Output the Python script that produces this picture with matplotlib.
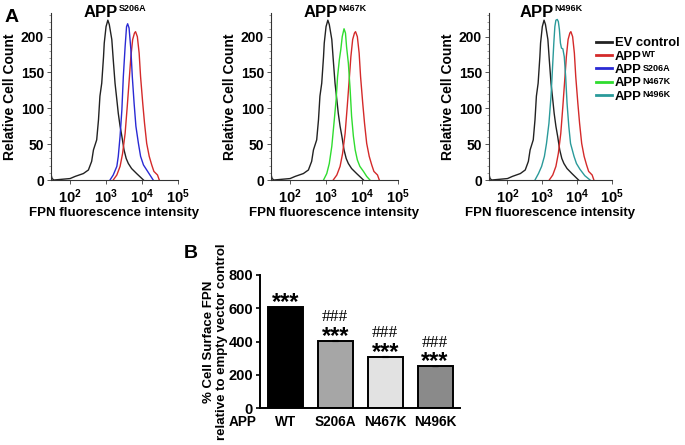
import numpy as np
import matplotlib
matplotlib.use("Agg")
import matplotlib.pyplot as plt

plt.rcParams['font.family'] = ['Liberation Sans', 'DejaVu Sans']
plt.rcParams['font.weight'] = 'bold'
plt.rcParams['mathtext.fontset'] = 'custom'
plt.rcParams['mathtext.rm'] = 'Liberation Sans:bold'
plt.rcParams['mathtext.bf'] = 'Liberation Sans:bold'
plt.rcParams['mathtext.it'] = 'Liberation Sans:bold'

# ---------------- Panel A data (x = log10 fluorescence, y = relative cell count)
ev_x = [1.47, 1.50, 1.55, 2.00, 2.14, 2.37, 2.51, 2.60, 2.65, 2.74, 2.79, 2.83, 2.88, 2.93, 2.95,
        3.00, 3.05, 3.09, 3.16, 3.20, 3.25, 3.30, 3.34, 3.39, 3.44, 3.50, 3.56, 3.62, 3.71,
        3.85, 4.04]
ev_y = [8, 2, 0, 2, 5, 9, 14, 26, 42, 56, 84, 117, 135, 172, 191,
        214, 223, 217, 196, 168, 135, 112, 93, 75, 61, 42, 30, 23, 16,
        9, 0]

wt_x = [3.20, 3.30, 3.39, 3.46, 3.53, 3.59, 3.65, 3.69, 3.74, 3.79, 3.82, 3.87, 3.92, 3.96,
        4.02, 4.07, 4.13, 4.20, 4.27, 4.33, 4.39, 4.43, 4.48]
wt_y = [0, 7, 19, 37, 65, 103, 144, 172, 196, 205, 207, 200, 177, 144,
        107, 79, 51, 33, 21, 12, 9, 7, 0]

s206a_x = [3.11, 3.20, 3.30, 3.34, 3.39, 3.44, 3.48, 3.53, 3.57, 3.60, 3.64, 3.69, 3.73, 3.78,
           3.83, 3.90, 3.96, 4.04, 4.13, 4.22, 4.31]
s206a_y = [0, 7, 19, 33, 61, 98, 144, 186, 214, 218, 212, 182, 144, 107,
           75, 51, 33, 21, 14, 7, 0]

n467k_x = [2.93, 3.02, 3.09, 3.16, 3.22, 3.28, 3.32, 3.37, 3.41, 3.45, 3.50, 3.54, 3.57, 3.62,
           3.67, 3.71, 3.76, 3.81, 3.87, 3.94, 4.04, 4.13, 4.22]
n467k_y = [0, 9, 23, 47, 79, 112, 144, 168, 182, 200, 211, 205, 186, 163,
           126, 89, 61, 42, 28, 19, 12, 5, 0]

n496k_x = [2.79, 2.89, 2.98, 3.06, 3.12, 3.19, 3.25, 3.29, 3.33, 3.36, 3.39, 3.43, 3.46, 3.49,
           3.52, 3.55, 3.59, 3.63, 3.67, 3.71, 3.76, 3.81, 3.86, 3.91, 3.98, 4.08, 4.22, 4.37]
n496k_y = [0, 9, 19, 33, 51, 79, 117, 154, 191, 214, 223, 224, 221, 210,
           191, 184, 183, 172, 144, 107, 75, 51, 42, 33, 23, 15, 6, 0]

title_base = 'APP'
title_sups = ['S206A', 'N467K', 'N496K']
x_ticks_exp = [2, 3, 4, 5]
y_ticks_a = [0, 50, 100, 150, 200]

legend_bases = ['EV control', 'APP', 'APP', 'APP', 'APP']
legend_sups = ['', 'WT', 'S206A', 'N467K', 'N496K']

# ---------------- Panel B data
b_categories = ['WT', 'S206A', 'N467K', 'N496K']
b_values = [605, 405, 308, 252]
b_err = [3, 3, 3, 2]
b_colors = ['#000000', '#a6a6a6', '#e2e2e2', '#8a8a8a']
b_yticks = [0, 200, 400, 600, 800]

W, H = 685, 445
fig = plt.figure(figsize=(W / 100, H / 100), dpi=100)
renderer = fig.canvas.get_renderer()


def rect(l, t, r, b):
    return [l / W, 1 - b / H, (r - l) / W, (b - t) / H]


col_ev = '#222222'
col_wt = '#d42a2a'
col_s = '#2a2ad4'
col_n467 = '#2fdc2f'
col_n496 = '#2a9a9a'

axes_rects = [rect(51, 13, 178, 180), rect(271, 13, 398, 180), rect(489, 13, 612, 180)]
mut = [(s206a_x, s206a_y, col_s), (n467k_x, n467k_y, col_n467), (n496k_x, n496k_y, col_n496)]
handles = {}
for i, r in enumerate(axes_rects):
    ax = fig.add_axes(r)
    h_ev, = ax.plot(10 ** np.array(ev_x), ev_y, color=col_ev, lw=1.0)
    h_wt, = ax.plot(10 ** np.array(wt_x), wt_y, color=col_wt, lw=1.0)
    mx, my, mc = mut[i]
    h_m, = ax.plot(10 ** np.array(mx), my, color=mc, lw=1.0)
    handles['ev'] = h_ev
    handles['wt'] = h_wt
    handles[i] = h_m
    ax.set_xscale('log')
    ax.set_xlim(10 ** 1.47, 10 ** 5.0)
    ax.set_ylim(0, 233)
    ax.set_xticks([10.0 ** e for e in x_ticks_exp])
    ax.set_xticklabels([r'$\mathbf{10^{%d}}$' % e for e in x_ticks_exp], fontsize=10.5)
    ax.set_yticks(y_ticks_a)
    ax.set_yticklabels([str(v) for v in y_ticks_a], fontsize=10, fontweight='bold')
    ax.yaxis.set_minor_locator(matplotlib.ticker.MultipleLocator(10))
    for s in ['top', 'right']:
        ax.spines[s].set_visible(False)
    for s in ['left', 'bottom']:
        ax.spines[s].set_linewidth(0.8)
        ax.spines[s].set_color('#333333')
    ax.tick_params(axis='both', which='major', length=3, width=0.7, color='#555555', pad=2)
    ax.tick_params(axis='both', which='minor', length=1.8, width=0.5, color='#777777')
    ax.set_xlabel('FPN fluorescence intensity', fontsize=9.5, fontweight='bold', labelpad=1)
    ax.set_ylabel('Relative Cell Count', fontsize=10, fontweight='bold', labelpad=3)
    # title: "APP" with small superscript
    t1 = fig.text(0, 0, title_base, fontsize=12, fontweight='bold')
    t2 = fig.text(0, 0, title_sups[i], fontsize=6.5, fontweight='bold')
    w1 = t1.get_window_extent(renderer).width
    w2 = t2.get_window_extent(renderer).width
    cx = (r[0] + r[2] / 2) * W
    x0 = cx - (w1 + w2) / 2
    t1.set_position(((x0) / W, 1 - 17 / H))
    t1.set_va('baseline')
    t2.set_position(((x0 + w1 + 0.5) / W, 1 - 11 / H))
    t2.set_va('baseline')

leg = fig.legend([handles['ev'], handles['wt'], handles[0], handles[1], handles[2]], legend_bases,
                 loc='upper left', bbox_to_anchor=(596 / W, 1 - 37 / H), frameon=False,
                 handlelength=1.2, handletextpad=0.25, labelspacing=0.1, borderaxespad=0,
                 borderpad=0, prop={'weight': 'bold', 'size': 9.4})
for ln in leg.get_lines():
    ln.set_linewidth(2.0)

fig.text(5 / W, 1 - 18 / H, 'A', fontsize=14, fontweight='bold', va='center', ha='left')
fig.text(184 / W, 1 - 254 / H, 'B', fontsize=14, fontweight='bold', va='center', ha='left')

# ---------------- Panel B
axb = fig.add_axes(rect(260, 275, 460, 408))
xpos = np.arange(len(b_categories))
axb.bar(xpos, b_values, width=0.7, color=b_colors, edgecolor='black', linewidth=1.4,
        yerr=b_err, capsize=2, error_kw={'elinewidth': 0.8, 'capthick': 0.8})
axb.set_xlim(-0.51, 3.5)
axb.set_ylim(0, 800)
axb.set_yticks(b_yticks)
axb.set_yticklabels([str(v) for v in b_yticks], fontsize=10.5, fontweight='bold')
axb.set_xticks(xpos)
axb.set_xticklabels(b_categories, fontsize=9.8, fontweight='bold')
axb.tick_params(axis='x', length=0, pad=5)
axb.tick_params(axis='y', length=3, width=1.2, pad=2)
for s in ['top', 'right']:
    axb.spines[s].set_visible(False)
for s in ['left', 'bottom']:
    axb.spines[s].set_linewidth(1.4)
axb.set_ylabel('% Cell Surface FPN\nrelative to empty vector control', fontsize=9.5,
               fontweight='bold', labelpad=0.5, linespacing=1.1)
axb.text(-0.015, -0.105, 'APP', transform=axb.transAxes, ha='right', va='center',
         fontsize=9.8, fontweight='bold')
for i, v in enumerate(b_values):
    axb.annotate('***', xy=(i, v), xytext=(0, -1.5), textcoords='offset points',
                 ha='center', va='baseline', fontsize=17, fontweight='bold')
    if i > 0:
        axb.annotate('###', xy=(i, v), xytext=(0, 14), textcoords='offset points',
                     ha='center', va='baseline', fontsize=12.5, family='Liberation Serif',
                     fontweight='normal')

# legend superscripts placed right after each legend label
fig.canvas.draw()
for txt, sup in zip(leg.get_texts(), legend_sups):
    if not sup:
        continue
    bb = txt.get_window_extent(renderer)
    fig.text((bb.x1 + 0.5) / W, (bb.y1 - 6.5) / H, sup, fontsize=6.5, fontweight='bold',
             ha='left', va='baseline')

fig.savefig('out.png', dpi=100)
